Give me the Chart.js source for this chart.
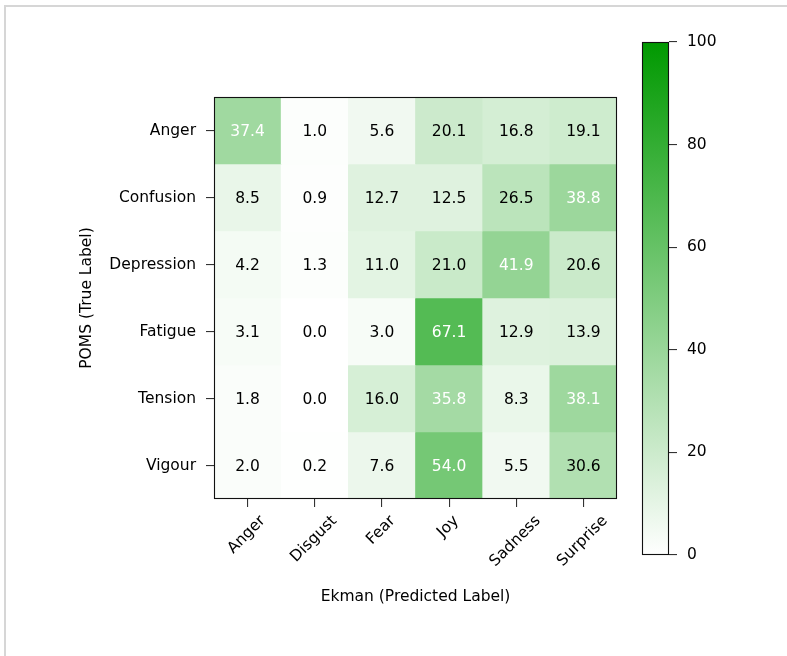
<!DOCTYPE html>
<html>
<head>
<meta charset="utf-8">
<title>POMS vs Ekman confusion matrix</title>
<script src="https://cdn.jsdelivr.net/npm/chart.js@4.4.1/dist/chart.umd.min.js"></script>
<style>
  html, body { margin: 0; padding: 0; background: #fff; }
  #wrap { position: relative; width: 787px; height: 656px; overflow: hidden; background: #fff; }
  #frame { position: absolute; left: 4px; top: 5px; right: -10px; bottom: -10px;
           border-left: 2px solid #d6d6d6; border-top: 2px solid #d6d6d6; }
  #heat { position: absolute; left: 0; top: 0; }
  #cbar { position: absolute; left: 600px; top: 0; }
</style>
</head>
<body>
<div id="wrap">
  <div id="frame"></div>
  <canvas id="heat" width="787" height="656"></canvas>
  <canvas id="cbar" width="187" height="656"></canvas>
</div>
<script>
// Column (predicted) and row (true) categories
const predictedLabels = ['Anger', 'Disgust', 'Fear', 'Joy', 'Sadness', 'Surprise'];
const trueLabels = ['Anger', 'Confusion', 'Depression', 'Fatigue', 'Tension', 'Vigour'];

// Row percentages, one array per true label
const angerRow      = [37.4, 1.0, 5.6, 20.1, 16.8, 19.1];
const confusionRow  = [8.5, 0.9, 12.7, 12.5, 26.5, 38.8];
const depressionRow = [4.2, 1.3, 11.0, 21.0, 41.9, 20.6];
const fatigueRow    = [3.1, 0.0, 3.0, 67.1, 12.9, 13.9];
const tensionRow    = [1.8, 0.0, 16.0, 35.8, 8.3, 38.1];
const vigourRow     = [2.0, 0.2, 7.6, 54.0, 5.5, 30.6];

// Colour bar range and ticks
const colorbarTicks = [0, 20, 40, 60, 80, 100];

const rows = [angerRow, confusionRow, depressionRow, fatigueRow, tensionRow, vigourRow];
const vmin = colorbarTicks[0];
const vmax = colorbarTicks[colorbarTicks.length - 1];
const lowRGB = [255, 255, 255];
const highRGB = [0, 153, 0];
const FONT = { family: 'DejaVu Sans', size: 15.5 };
const INK = '#000';
const TICK_INK = '#333';

function colorFor(v) {
  const t = Math.max(0, Math.min(1, (v - vmin) / (vmax - vmin)));
  const c = lowRGB.map((lo, k) => Math.round(lo + (highRGB[k] - lo) * t));
  return `rgb(${c[0]},${c[1]},${c[2]})`;
}

const cellMax = Math.max(...rows.flat());
const textThreshold = cellMax / 2;

// Black outline around a chart's plotting area
const frameBox = {
  id: 'frameBox',
  afterDatasetsDraw(chart) {
    const { ctx, chartArea: a } = chart;
    ctx.save();
    ctx.strokeStyle = '#111';
    ctx.lineWidth = 1.1;
    ctx.strokeRect(Math.round(a.left) + 0.5, Math.round(a.top) + 0.5,
                   Math.round(a.right - a.left) - 1, Math.round(a.bottom - a.top) - 1);
    ctx.restore();
  }
};

// Value printed in each cell
const cellText = {
  id: 'cellText',
  afterDatasetsDraw(chart) {
    const { ctx } = chart;
    ctx.save();
    ctx.font = `${FONT.size}px "${FONT.family}"`;
    ctx.textAlign = 'center';
    ctx.textBaseline = 'middle';
    chart.data.datasets.forEach((ds, di) => {
      chart.getDatasetMeta(di).data.forEach((bar, j) => {
        const v = ds.values[j];
        const p = bar.getCenterPoint();
        ctx.fillStyle = v > textThreshold ? '#fff' : INK;
        ctx.fillText(v.toFixed(1), p.x, p.y + 1);
      });
    });
    ctx.restore();
  }
};

// Category names under the x axis, rotated 45 degrees and centred on their ticks
const rotatedXLabels = {
  id: 'rotatedXLabels',
  afterDraw(chart) {
    const { ctx } = chart;
    const sx = chart.scales.x;
    const top = sx.top + sx.options.grid.tickLength + 6;
    const h = FONT.size * 1.17;
    ctx.save();
    ctx.font = `${FONT.size}px "${FONT.family}"`;
    ctx.fillStyle = INK;
    ctx.textAlign = 'right';
    ctx.textBaseline = 'top';
    chart.data.labels.forEach((lab, i) => {
      const px = sx.getPixelForTick(i);
      const w = ctx.measureText(lab).width;
      const ax = px + (w - h) * Math.SQRT1_2 / 2;
      ctx.save();
      ctx.translate(ax, top);
      ctx.rotate(-Math.PI / 4);
      ctx.fillText(lab, 0, 0);
      ctx.restore();
    });
    ctx.restore();
  }
};

new Chart(document.getElementById('heat'), {
  type: 'bar',
  data: {
    labels: predictedLabels,
    datasets: rows.map((vals, r) => ({
      label: trueLabels[r],
      values: vals,
      data: vals.map(() => [r, r + 1]),
      backgroundColor: vals.map(colorFor),
      borderWidth: 0,
      grouped: false,
      barPercentage: 1,
      categoryPercentage: 1
    }))
  },
  options: {
    responsive: false,
    animation: false,
    layout: { padding: { left: 0, top: 97, right: 170, bottom: 0 } },
    plugins: { legend: { display: false }, tooltip: { enabled: false } },
    scales: {
      x: {
        type: 'category',
        offset: true,
        grid: { offset: false, drawOnChartArea: false, drawTicks: true, tickLength: 8, color: TICK_INK, lineWidth: 1.1 },
        border: { display: false },
        ticks: { display: false },
        title: { display: true, text: 'Ekman (Predicted Label)', color: INK, font: FONT, padding: { top: 0, bottom: 50 } },
        afterFit(s) { s.height = 157; }
      },
      y: {
        type: 'linear',
        min: 0,
        max: trueLabels.length,
        reverse: true,
        afterBuildTicks(s) { s.ticks = trueLabels.map((_, i) => ({ value: i + 0.5 })); },
        grid: { drawOnChartArea: false, drawTicks: true, tickLength: 8, color: TICK_INK, lineWidth: 1.1 },
        border: { display: false },
        ticks: { autoSkip: false, color: INK, font: FONT, padding: 10,
                 callback: v => trueLabels[Math.floor(v)] },
        title: { display: true, text: 'POMS (True Label)', color: INK, font: FONT, padding: { top: 78, bottom: 0 } },
        afterFit(s) { s.width = 214; }
      }
    }
  },
  plugins: [cellText, frameBox, rotatedXLabels]
});

// Colour bar: one full-height bar filled with the same white-to-green scale
new Chart(document.getElementById('cbar'), {
  type: 'bar',
  data: {
    labels: [''],
    datasets: [{
      data: [vmax],
      borderWidth: 0,
      barPercentage: 1,
      categoryPercentage: 1,
      backgroundColor(ctx) {
        const { chart } = ctx;
        if (!chart.chartArea) return colorFor(vmax);
        const ys = chart.scales.y;
        const g = chart.ctx.createLinearGradient(0, ys.getPixelForValue(vmin), 0, ys.getPixelForValue(vmax));
        g.addColorStop(0, colorFor(vmin));
        g.addColorStop(1, colorFor(vmax));
        return g;
      }
    }]
  },
  options: {
    responsive: false,
    animation: false,
    layout: { padding: { left: 42, top: 42, right: 0, bottom: 101 } },
    plugins: { legend: { display: false }, tooltip: { enabled: false } },
    scales: {
      x: { display: false },
      y: {
        position: 'right',
        min: vmin,
        max: vmax,
        afterBuildTicks(s) { s.ticks = colorbarTicks.map(v => ({ value: v })); },
        grid: { drawOnChartArea: false, drawTicks: true, tickLength: 8, color: TICK_INK, lineWidth: 1.1 },
        border: { display: false },
        ticks: { autoSkip: false, color: INK, font: FONT, padding: 10 },
        afterFit(s) { s.width = 118; }
      }
    }
  },
  plugins: [frameBox]
});
</script>
</body>
</html>
